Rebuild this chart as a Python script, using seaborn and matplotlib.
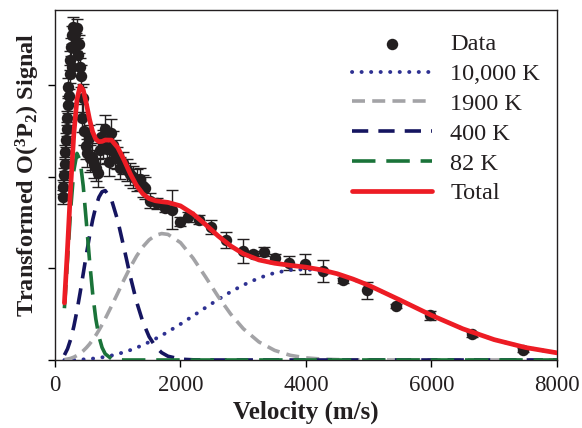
import matplotlib
matplotlib.use("Agg")
import matplotlib.pyplot as plt
import seaborn as sns

# Fit grid (m/s) and the component / total fit curves (arb. units)
velocity = [150, 200, 250, 300, 350, 400, 450, 500, 550, 600, 650, 700, 750, 800,
            900, 1000, 1100, 1200, 1300, 1400, 1500, 1600, 1700, 1800, 2000, 2200,
            2400, 2600, 2800, 3000, 3250, 3500, 3750, 4000, 4250, 4500, 4750, 5000,
            5500, 6000, 6500, 7000, 7500, 8000]

fit_82k = [0.565, 1.093, 1.646, 2.068, 2.255, 2.181, 1.899, 1.502, 1.090, 0.727,
           0.449, 0.257, 0.136, 0.067, 0.013, 0.002, 0.0, 0.0, 0.0, 0.0, 0.0, 0.0,
           0.0, 0.0, 0.0, 0.0, 0.0, 0.0, 0.0, 0.0, 0.0, 0.0, 0.0, 0.0, 0.0, 0.0,
           0.0, 0.0, 0.0, 0.0, 0.0, 0.0, 0.0, 0.0]

fit_400k = [0.054, 0.122, 0.226, 0.366, 0.537, 0.733, 0.942, 1.152, 1.352, 1.529,
            1.673, 1.777, 1.836, 1.849, 1.750, 1.522, 1.222, 0.912, 0.636, 0.415,
            0.254, 0.147, 0.080, 0.041, 0.009, 0.002, 0.0, 0.0, 0.0, 0.0, 0.0, 0.0,
            0.0, 0.0, 0.0, 0.0, 0.0, 0.0, 0.0, 0.0, 0.0, 0.0, 0.0, 0.0]

fit_1900k = [0.004, 0.010, 0.018, 0.031, 0.049, 0.072, 0.100, 0.134, 0.173, 0.219,
             0.269, 0.325, 0.385, 0.450, 0.588, 0.730, 0.876, 1.012, 1.134, 1.235,
             1.311, 1.360, 1.380, 1.371, 1.281, 1.112, 0.906, 0.693, 0.501, 0.342,
             0.197, 0.105, 0.051, 0.023, 0.010, 0.004, 0.001, 0.0, 0.0, 0.0, 0.0,
             0.0, 0.0, 0.0]

fit_10000k = [0.0002, 0.0006, 0.0011, 0.0019, 0.0030, 0.0045, 0.0064, 0.0088, 0.0116,
              0.0150, 0.0190, 0.0235, 0.0288, 0.0347, 0.0485, 0.0654, 0.0853, 0.108,
              0.134, 0.164, 0.196, 0.231, 0.268, 0.308, 0.392, 0.481, 0.572, 0.661,
              0.744, 0.818, 0.895, 0.951, 0.982, 0.990, 0.973, 0.937, 0.882, 0.814,
              0.654, 0.488, 0.340, 0.222, 0.136, 0.078]

fit_total = [0.623, 1.225, 1.891, 2.467, 2.844, 2.991, 2.947, 2.797, 2.627, 2.490,
             2.410, 2.383, 2.386, 2.401, 2.400, 2.319, 2.183, 2.032, 1.904, 1.814,
             1.761, 1.738, 1.728, 1.720, 1.682, 1.595, 1.478, 1.354, 1.245, 1.160,
             1.092, 1.056, 1.033, 1.013, 0.983, 0.941, 0.883, 0.815, 0.654, 0.488,
             0.340, 0.222, 0.136, 0.078]

# Measured signal with uncertainties
data_velocity = [125, 135, 145, 155, 165, 175, 185, 195, 205, 215, 225, 235, 245, 255,
                 265, 275, 290, 305, 320, 335, 350, 365, 380, 395, 410, 430, 450, 470,
                 490, 510, 535, 560, 590, 620, 650, 680, 710, 740, 770, 800, 830, 860,
                 890, 920, 950, 990, 1030, 1080, 1140, 1200, 1250, 1300, 1350, 1400,
                 1440, 1510, 1620, 1750, 1860, 1990, 2120, 2300, 2490, 2720, 3000,
                 3160, 3330, 3510, 3730, 3980, 4270, 4590, 4970, 5430, 5980, 6650, 7460]

data_signal = [1.78, 1.89, 2.02, 2.14, 2.27, 2.40, 2.52, 2.64, 2.78, 2.98, 2.88, 3.12,
               3.27, 3.42, 3.20, 3.55, 3.64, 3.40, 3.56, 3.47, 3.62, 3.33, 3.45, 3.20,
               3.10, 2.64, 2.86, 2.50, 2.34, 2.26, 2.42, 2.20, 2.22, 2.14, 2.10, 2.04,
               2.29, 2.43, 2.36, 2.52, 2.30, 2.16, 2.48, 2.35, 2.25, 2.21, 2.10, 2.15,
               2.07, 2.03, 2.00, 1.96, 1.98, 1.90, 1.88, 1.74, 1.71, 1.66, 1.64, 1.51,
               1.56, 1.53, 1.45, 1.31, 1.19, 1.16, 1.18, 1.11, 1.06, 1.05, 0.97, 0.87,
               0.76, 0.59, 0.49, 0.28, 0.11]

data_error = [0.08, 0.08, 0.08, 0.08, 0.08, 0.08, 0.08, 0.08, 0.08, 0.10, 0.08, 0.10,
              0.10, 0.10, 0.10, 0.10, 0.10, 0.10, 0.10, 0.10, 0.10, 0.10, 0.10, 0.10,
              0.12, 0.15, 0.15, 0.15, 0.15, 0.15, 0.15, 0.15, 0.15, 0.15, 0.15, 0.15,
              0.15, 0.15, 0.15, 0.15, 0.15, 0.15, 0.15, 0.15, 0.15, 0.12, 0.12, 0.12,
              0.12, 0.12, 0.12, 0.12, 0.12, 0.12, 0.12, 0.08, 0.06, 0.05, 0.21, 0.05,
              0.05, 0.05, 0.08, 0.09, 0.13, 0.03, 0.05, 0.05, 0.08, 0.11, 0.12, 0.03,
              0.09, 0.02, 0.05, 0.03, 0.02]

sns.set_theme(style="white")
plt.rcParams["font.family"] = ["Liberation Serif", "DejaVu Serif"]
plt.rcParams["mathtext.fontset"] = "custom"
plt.rcParams["mathtext.rm"] = "Liberation Serif:bold"
plt.rcParams["mathtext.it"] = "Liberation Serif:bold"
plt.rcParams["mathtext.bf"] = "Liberation Serif:bold"

fig = plt.figure(figsize=(5.82, 4.28), dpi=100)
ax = fig.add_axes([0.0945, 0.1589, 0.8625, 0.8177])

# Measurements
ax.errorbar(data_velocity, data_signal, yerr=data_error, fmt="none",
            ecolor="#231f20", elinewidth=1.0, capsize=4, capthick=1.0, zorder=2)
sns.scatterplot(x=data_velocity, y=data_signal, ax=ax, s=68, color="#231f20",
                edgecolor="#231f20", linewidth=0, label="Data", zorder=3)

# Temperature components of the fit
sns.lineplot(x=velocity, y=fit_10000k, ax=ax, color="#2e3192", lw=2.8,
             linestyle=(0, (0.05, 2.4)), dash_capstyle="round",
             label="10,000 K", sort=False, estimator=None, zorder=4)
sns.lineplot(x=velocity, y=fit_1900k, ax=ax, color="#a3a3a6", lw=2.6,
             linestyle=(0, (3.6, 2.0)), label="1900 K", sort=False,
             estimator=None, zorder=4)
sns.lineplot(x=velocity, y=fit_400k, ax=ax, color="#151560", lw=2.6,
             linestyle=(0, (4.5, 2.8)), label="400 K", sort=False,
             estimator=None, zorder=4)
sns.lineplot(x=velocity, y=fit_82k, ax=ax, color="#1a7339", lw=2.6,
             linestyle=(0, (6.5, 3.0)), label="82 K", sort=False,
             estimator=None, zorder=4)
sns.lineplot(x=velocity, y=fit_total, ax=ax, color="#ed1c24", lw=3.4,
             label="Total", sort=False, estimator=None, zorder=5)

ax.set_xlim(0, 8000)
ax.set_ylim(0, 3.82)
ax.set_xticks([0, 2000, 4000, 6000, 8000])
ax.set_xticklabels(["0", "2000", "4000", "6000", "8000"])
ax.set_yticks([0, 1, 2, 3])
ax.set_yticklabels([])
ax.tick_params(axis="both", direction="out", length=5, width=1, color="black",
               bottom=True, left=True, labelsize=16.5, pad=6, labelcolor="#231f20")

for side in ["left", "right", "top", "bottom"]:
    ax.spines[side].set_visible(True)
    ax.spines[side].set_color("#231f20")
    ax.spines[side].set_linewidth(1.0)

ax.set_xlabel("Velocity (m/s)", fontsize=18, fontweight="bold",
              color="#231f20", labelpad=3)
ax.set_ylabel(r"Transformed O($^{3}$P$_{2}$) Signal", fontsize=17.5,
              fontweight="bold", color="#231f20")
ax.yaxis.set_label_coords(-0.026, 0.53)

handles, labels = ax.get_legend_handles_labels()
leg = ax.legend(handles, labels, loc="upper right", bbox_to_anchor=(0.995, 0.975),
                frameon=False, fontsize=17.5, handlelength=3.3, handletextpad=0.75,
                labelspacing=0.32, borderaxespad=0.2, scatterpoints=1)
for t in leg.get_texts():
    t.set_color("#231f20")

fig.savefig("out.png", dpi=100)
